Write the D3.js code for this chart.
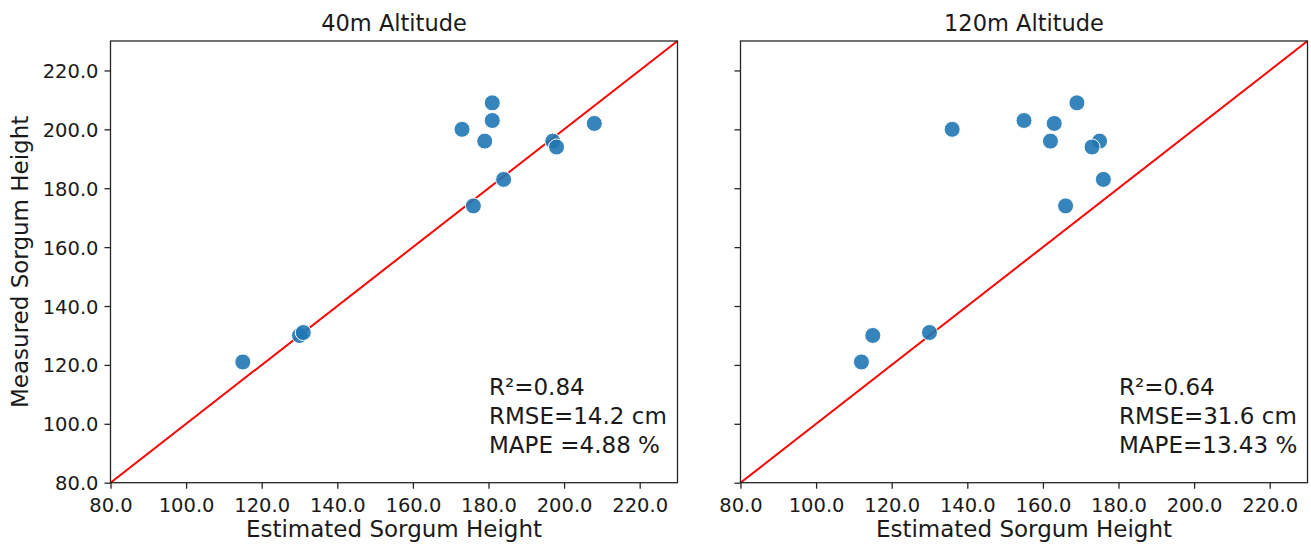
<!DOCTYPE html>
<html>
<head>
<meta charset="utf-8">
<script src="https://cdn.jsdelivr.net/npm/d3@7"></script>
<style>
  html, body { margin: 0; padding: 0; background: #fff; }
  svg { display: block; font-family: "DejaVu Sans", sans-serif; }
</style>
</head>
<body>
<svg id="chart" width="1311" height="545"></svg>
<script>
// ---- data ----
const measured = [121, 130, 131, 200, 209, 203, 196, 174, 183, 196, 194, 202];
const estimated40 = [115, 130, 131, 173, 181, 181, 179, 176, 184, 197, 198, 208];
const estimated120 = [112, 115, 130, 136, 169, 155, 162, 166, 176, 175, 173, 163];
const tickValues = [80, 100, 120, 140, 160, 180, 200, 220];
const axisDomain = [80, 230];
const panelTitles = ["40m Altitude", "120m Altitude"];
const statsLines = [
  ["R\u00B2=0.84", "RMSE=14.2 cm", "MAPE =4.88 %"],
  ["R\u00B2=0.64", "RMSE=31.6 cm", "MAPE=13.43 %"]
];
const xLabel = "Estimated Sorgum Height";
const yLabel = "Measured Sorgum Height";

// ---- layout ----
const svg = d3.select("#chart");
const panels = [
  { left: 110.5, est: estimated40, showY: true },
  { left: 740.5, est: estimated120, showY: false }
];
const plotTop = 41, plotBottom = 482.7, pw = 567;

panels.forEach((p, i) => {
  const x = d3.scaleLinear().domain(axisDomain).range([p.left, p.left + pw]);
  const y = d3.scaleLinear().domain(axisDomain).range([plotBottom, plotTop]);
  const g = svg.append("g");

  // identity line
  g.append("line")
    .attr("x1", x(axisDomain[0])).attr("y1", y(axisDomain[0]))
    .attr("x2", x(axisDomain[1])).attr("y2", y(axisDomain[1]))
    .attr("stroke", "#ff0000").attr("stroke-width", 2);

  // points
  const pts = measured.map((m, j) => ({ e: p.est[j], m }));
  g.selectAll("circle").data(pts).join("circle")
    .attr("cx", d => x(d.e)).attr("cy", d => y(d.m))
    .attr("r", 8)
    .attr("fill", "#1f77b4").attr("fill-opacity", 0.9)
    .attr("stroke", "#ffffff").attr("stroke-width", 1);

  // axes
  const xAxis = d3.axisBottom(x).tickValues(tickValues).tickFormat(d3.format(".1f"))
    .tickSize(6).tickPadding(5);
  const gx = g.append("g").attr("transform", `translate(0,${plotBottom})`).call(xAxis);
  const yAxis = d3.axisLeft(y).tickValues(tickValues).tickFormat(p.showY ? d3.format(".1f") : "")
    .tickSize(6).tickPadding(6);
  const gy = g.append("g").attr("transform", `translate(${p.left},0)`).call(yAxis);
  [gx, gy].forEach(a => {
    a.select(".domain").remove();
    a.selectAll(".tick line").attr("stroke", "#262626").attr("stroke-width", 1.3);
    a.selectAll(".tick text").attr("fill", "#1a1a1a")
      .style("font-size", "19.5px").style("font-family", "DejaVu Sans, sans-serif");
  });
  gx.selectAll(".tick text").attr("dy", "0.95em");
  gy.selectAll(".tick text").attr("dy", "0.36em");

  // frame
  g.append("rect")
    .attr("x", p.left).attr("y", plotTop).attr("width", pw).attr("height", plotBottom - plotTop)
    .attr("fill", "none").attr("stroke", "#262626").attr("stroke-width", 1.3);

  // title
  g.append("text")
    .attr("x", p.left + pw / 2).attr("y", 31)
    .attr("text-anchor", "middle").attr("fill", "#1a1a1a")
    .style("font-size", "22.5px").text(panelTitles[i]);

  // x label
  g.append("text")
    .attr("x", p.left + pw / 2).attr("y", 537)
    .attr("text-anchor", "middle").attr("fill", "#1a1a1a")
    .style("font-size", "23px").text(xLabel);

  // stats annotation
  const ax = i === 0 ? 489 : 1119;
  statsLines[i].forEach((t, k) => {
    g.append("text")
      .attr("x", ax).attr("y", 395 + k * 29)
      .attr("fill", "#1a1a1a")
      .style("font-size", "23px").text(t);
  });

  if (p.showY) {
    g.append("text")
      .attr("transform", `translate(27.5,${(plotTop + plotBottom) / 2}) rotate(-90)`)
      .attr("text-anchor", "middle").attr("fill", "#1a1a1a")
      .style("font-size", "23px").text(yLabel);
  }
});
</script>
</body>
</html>
